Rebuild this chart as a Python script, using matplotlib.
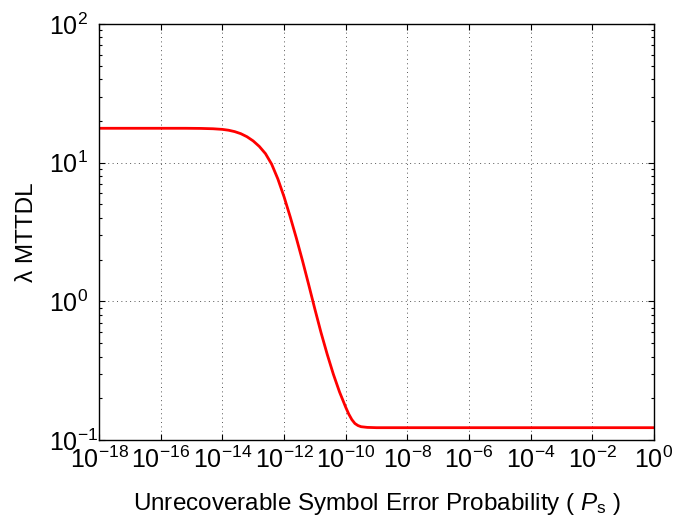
import numpy as np
import matplotlib
matplotlib.use("Agg")
import matplotlib.pyplot as plt
from matplotlib.ticker import LogLocator, NullLocator, NullFormatter

plt.rcParams['font.family'] = ['Liberation Sans', 'DejaVu Sans']
plt.rcParams['mathtext.fontset'] = 'custom'
plt.rcParams['mathtext.rm'] = 'Liberation Sans'
plt.rcParams['mathtext.it'] = 'Liberation Sans:italic'
plt.rcParams['mathtext.default'] = 'rm'

# Data (x exponent of P_s, lambda*MTTDL)
ps_exponent = [-18, -15.2, -14.7, -14.3, -14.0, -13.8, -13.6, -13.4, -13.2, -13.0,
               -12.8, -12.6, -12.4, -12.2, -12.0, -11.8, -11.6, -11.4, -11.2,
               -11.0, -10.8, -10.6, -10.4, -10.2, -10.0, -9.9, -9.8, -9.7,
               -9.6, -9.5, -9.3, -9.0, 0]
lambda_mttdl = [17.70, 17.70, 17.66, 17.56, 17.38, 17.14, 16.75, 16.18, 15.38, 14.35,
                13.09, 11.61, 9.75, 7.64, 5.69, 4.08, 2.86, 1.963, 1.321,
                0.881, 0.596, 0.416, 0.2985, 0.2223, 0.1726, 0.1538, 0.1403, 0.1315,
                0.1271, 0.1247, 0.1233, 0.1227, 0.1227]
x_ticks_exp = list(range(-18, 1, 2))
y_ticks_exp = [-1, 0, 1, 2]

ps = [10.0 ** e for e in ps_exponent]

fig = plt.figure(figsize=(6.92, 5.26), dpi=100)
ax = fig.add_axes([99/692, 1 - 440/526, (654-99)/692, (440-24)/526])

ax.plot(ps, lambda_mttdl, color='#ff0000', lw=2.0, solid_joinstyle='round')

ax.set_xscale('log')
ax.set_yscale('log')
ax.set_xlim(1e-18, 1e0)
ax.set_ylim(1e-1, 1e2)

ax.set_xticks([10.0 ** e for e in x_ticks_exp])
ax.set_xticklabels([r'$10^{%d}$' % e for e in x_ticks_exp])
ax.xaxis.set_minor_locator(NullLocator())
ax.set_yticks([10.0 ** e for e in y_ticks_exp])
ax.set_yticklabels([r'$10^{%d}$' % e for e in y_ticks_exp])
ax.yaxis.set_minor_locator(LogLocator(base=10, subs=np.arange(2, 10)))
ax.yaxis.set_minor_formatter(NullFormatter())

ax.tick_params(which='both', direction='in', top=True, right=True,
               labelsize=18, width=0.8, color='black')
ax.tick_params(which='major', length=4.5)
ax.tick_params(which='minor', length=2.5)
ax.tick_params(axis='x', which='major', pad=5)
ax.tick_params(axis='y', which='major', pad=36)
for lab in ax.get_yticklabels():
    lab.set_horizontalalignment('left')

for s in ax.spines.values():
    s.set_linewidth(1.0)

ax.grid(True, which='major', linestyle=(0, (1, 3.5)), color='#555555', linewidth=0.7)

ax.set_xlabel(r'Unrecoverable Symbol Error Probability ( $\mathit{P}_{\mathrm{s}}$ )', fontsize=17.5, labelpad=13)
ax.set_ylabel('λ MTTDL', fontsize=17.5)
ax.yaxis.set_label_coords(-0.11, 0.5)

fig.savefig('out.png', dpi=100)
